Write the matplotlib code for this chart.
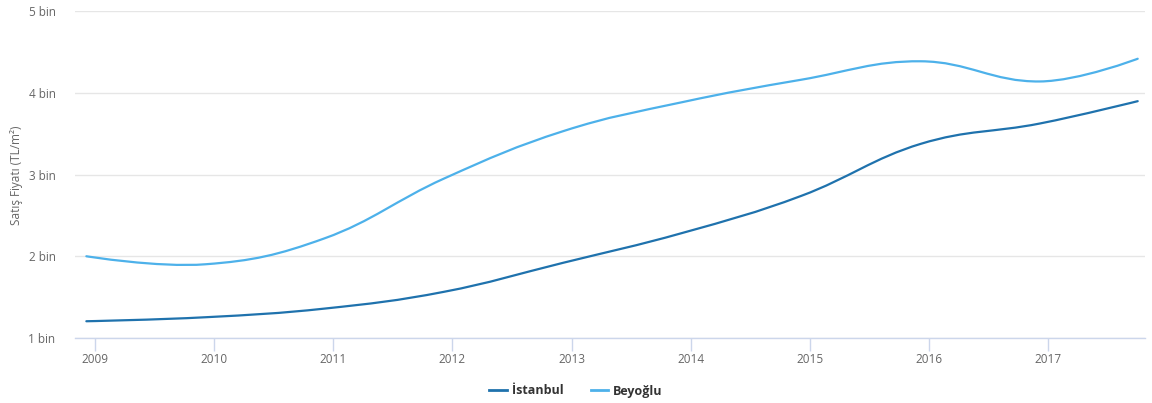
import numpy as np
import matplotlib
matplotlib.use("Agg")
import matplotlib.pyplot as plt
from matplotlib.path import Path
from matplotlib.patches import PathPatch
from matplotlib.lines import Line2D

plt.rcParams.update(
    {
        "font.family": ["Open Sans", "DejaVu Sans"],
        "font.size": 8.5,
    }
)

# decimal years of the points (December of each year, last one Oct 2017)
years = [2008.93, 2009.93, 2010.93, 2011.93, 2012.93, 2013.93,
         2014.93, 2015.93, 2016.93, 2017.75]
istanbul = [1205, 1254, 1360, 1565, 1920, 2285, 2740, 3375, 3624, 3897]
beyoglu = [2000, 1902, 2220, 2950, 3530, 3885, 4160, 4385, 4138, 4416]

year_ticks = list(range(2009, 2018))
y_ticks = [1000, 2000, 3000, 4000, 5000]
y_labels = ["1 bin", "2 bin", "3 bin", "4 bin", "5 bin"]

c_ist = "#1f72ad"
c_bey = "#4db1ea"


def spline_path(xs, ys, smoothing=1.5):
    # highcharts style bezier spline
    xs = np.asarray(xs, float)
    ys = np.asarray(ys, float)
    verts = [(xs[0], ys[0])]
    codes = [Path.MOVETO]
    n = len(xs)
    ctrl = []
    for i in range(n):
        if i == 0 or i == n - 1:
            ctrl.append(((xs[i], ys[i]), (xs[i], ys[i])))
            continue
        lx = (smoothing * xs[i] + xs[i - 1]) / (smoothing + 1)
        ly = (smoothing * ys[i] + ys[i - 1]) / (smoothing + 1)
        rx = (smoothing * xs[i] + xs[i + 1]) / (smoothing + 1)
        ry = (smoothing * ys[i] + ys[i + 1]) / (smoothing + 1)
        if rx != lx:
            corr = ((ry - ly) * (rx - xs[i])) / (rx - lx) + ys[i] - ry
            ly += corr
            ry += corr
        ctrl.append(((lx, ly), (rx, ry)))
    for i in range(1, n):
        verts += [ctrl[i - 1][1], ctrl[i][0], (xs[i], ys[i])]
        codes += [Path.CURVE4] * 3
    return Path(verts, codes)


fig = plt.figure(figsize=(11.52, 4.03), dpi=100)
ax = fig.add_axes([75 / 1152, 1 - 338 / 403, 1070 / 1152, 327 / 403])

x0 = 2009 + (75 - 94.7) / 119.2
x1 = 2009 + (1145 - 94.7) / 119.2
ax.set_xlim(x0, x1)
ax.set_ylim(1000, 5000)

for ys, col in [(istanbul, c_ist), (beyoglu, c_bey)]:
    ax.add_patch(PathPatch(spline_path(years, ys), facecolor="none",
                           edgecolor=col, lw=1.6, capstyle="round", zorder=3))

ax.set_yticks(y_ticks, y_labels)
ax.set_xticks(year_ticks, [str(y) for y in year_ticks])
ax.grid(axis="y", color="#e6e6e6", lw=1)
ax.set_axisbelow(True)
for s in ["top", "right", "left"]:
    ax.spines[s].set_visible(False)
ax.spines["bottom"].set_color("#ccd6eb")
ax.spines["bottom"].set_linewidth(1)
ax.tick_params(axis="x", colors="#666666", length=9, width=1, color="#ccd6eb",
               pad=2, labelsize=8.5)
ax.tick_params(axis="y", colors="#666666", length=0, pad=14, labelsize=8.5)

fig.text(17 / 1152, 1 - 175 / 403, "Satış Fiyatı (TL/m²)", rotation=90,
         ha="center", va="center", color="#666666", fontsize=8.5)

handles = [Line2D([], [], color=c_ist, lw=2), Line2D([], [], color=c_bey, lw=2)]
fig.legend(handles, ["İstanbul", "Beyoğlu"], loc="center",
           bbox_to_anchor=(576 / 1152, 1 - 391 / 403), ncol=2, frameon=False,
           handlelength=1.4, handletextpad=0.4, columnspacing=2.2,
           prop={"weight": "bold", "size": 9}, labelcolor="#333333")

fig.savefig("out.png", dpi=100)
